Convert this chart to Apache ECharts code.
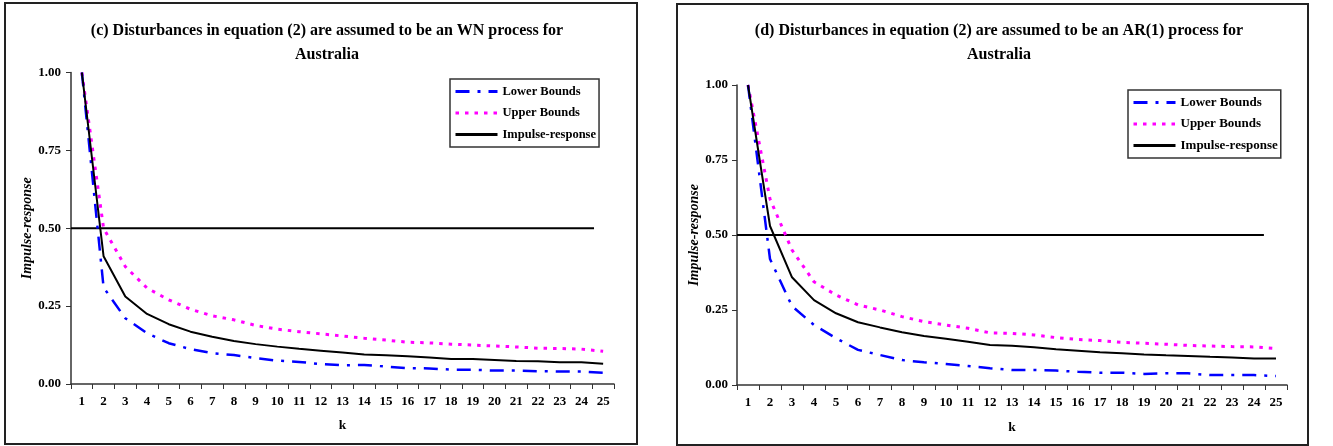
<!DOCTYPE html>
<html>
<head>
<meta charset="utf-8">
<script src="https://cdn.jsdelivr.net/npm/echarts@6/dist/echarts.min.js"></script>
<style>
  html, body { margin: 0; padding: 0; background: #fff; }
  #chart { width: 1333px; height: 446px; }
</style>
</head>
<body>
<div id="chart"></div>
<script>
// ---- data ----
const categories = ['1','2','3','4','5','6','7','8','9','10','11','12','13','14','15','16','17','18','19','20','21','22','23','24','25'];

// Panel (c): WN process
const lowerC   = [1.00, 0.31, 0.211, 0.163, 0.131, 0.112, 0.099, 0.093, 0.083, 0.075, 0.071, 0.064, 0.060, 0.061, 0.056, 0.051, 0.050, 0.046, 0.046, 0.043, 0.043, 0.041, 0.040, 0.040, 0.036];
const upperC   = [1.00, 0.50, 0.377, 0.308, 0.270, 0.240, 0.219, 0.206, 0.188, 0.176, 0.168, 0.161, 0.154, 0.147, 0.141, 0.134, 0.132, 0.128, 0.125, 0.122, 0.119, 0.115, 0.114, 0.112, 0.105];
const impulseC = [1.00, 0.41, 0.281, 0.225, 0.192, 0.168, 0.152, 0.138, 0.128, 0.120, 0.113, 0.107, 0.101, 0.095, 0.092, 0.089, 0.085, 0.080, 0.080, 0.077, 0.074, 0.073, 0.070, 0.070, 0.065];
const refLineC = [[0.5, 0.5], [24.58, 0.5]];

// Panel (d): AR(1) process
const lowerD   = [1.00, 0.42, 0.263, 0.200, 0.156, 0.117, 0.100, 0.083, 0.076, 0.070, 0.063, 0.056, 0.050, 0.050, 0.048, 0.044, 0.041, 0.041, 0.037, 0.039, 0.039, 0.033, 0.033, 0.033, 0.030];
const upperD   = [1.00, 0.62, 0.450, 0.344, 0.300, 0.267, 0.250, 0.228, 0.211, 0.200, 0.189, 0.174, 0.172, 0.167, 0.158, 0.152, 0.148, 0.142, 0.139, 0.136, 0.132, 0.130, 0.128, 0.127, 0.122];
const impulseD = [1.00, 0.53, 0.359, 0.283, 0.239, 0.209, 0.192, 0.176, 0.163, 0.154, 0.144, 0.133, 0.131, 0.126, 0.119, 0.114, 0.109, 0.106, 0.102, 0.099, 0.097, 0.094, 0.092, 0.088, 0.088];
const refLineD = [[0.5, 0.5], [24.45, 0.5]];

const yTickValues = [0, 0.25, 0.5, 0.75, 1.0];
const seriesNames = ['Lower Bounds', 'Upper Bounds', 'Impulse-response'];
const titleC = '(c) Disturbances in equation (2) are assumed to be an WN process for\nAustralia';
const titleD = '(d) Disturbances in equation (2) are assumed to be an AR(1) process for\nAustralia';

// ---- styles ----
const SERIF = "'Liberation Serif', 'Times New Roman', serif";
const AX = '#333';

function catAxis(gi, nameGap) {
  return {
    type: 'category', gridIndex: gi, data: categories, boundaryGap: true,
    axisLine: { lineStyle: { color: AX, width: 1.5 } },
    axisTick: { show: true, length: 5, inside: false, alignWithLabel: false, lineStyle: { color: AX, width: 1 } },
    axisLabel: { interval: 0, margin: 11, color: '#000', fontFamily: SERIF, fontWeight: 'bold', fontSize: 13 },
    name: 'k', nameLocation: 'middle', nameGap: nameGap,
    nameTextStyle: { color: '#000', fontFamily: SERIF, fontWeight: 'bold', fontSize: 13.5 },
    splitLine: { show: false }
  };
}
function valXAxis(gi) {
  return { type: 'value', gridIndex: gi, min: 0.5, max: 25.5, show: false, splitLine: { show: false } };
}
function yAx(gi, margin) {
  return {
    type: 'value', gridIndex: gi, min: 0, max: 1, interval: 0.25,
    axisLine: { show: true, lineStyle: { color: AX, width: 1.5 } },
    axisTick: { show: true, length: 5, lineStyle: { color: AX, width: 1 } },
    axisLabel: { margin: margin, color: '#000', fontFamily: SERIF, fontWeight: 'bold', fontSize: 13,
                 formatter: v => (yTickValues.indexOf(v) >= 0 ? v.toFixed(2) : '') },
    splitLine: { show: false },
    name: 'Impulse-response', nameLocation: 'middle', nameRotate: 90, nameGap: 32,
    nameTextStyle: { color: '#000', fontFamily: SERIF, fontWeight: 'bold', fontStyle: 'italic', fontSize: 14 }
  };
}
function seriesFor(gi, lower, upper, impulse, ref) {
  const xi = gi * 2, xv = gi * 2 + 1;
  return [
    { name: seriesNames[0], type: 'line', xAxisIndex: xi, yAxisIndex: gi, data: lower, symbol: 'none',
      lineStyle: { color: '#0000FF', width: 2.5, type: [14, 8, 3, 8], cap: 'butt' }, itemStyle: { color: '#0000FF' }, z: 3 },
    { name: seriesNames[1], type: 'line', xAxisIndex: xi, yAxisIndex: gi, data: upper, symbol: 'none',
      lineStyle: { color: '#FF00FF', width: 3, type: [3.5, 6], cap: 'butt' }, itemStyle: { color: '#FF00FF' }, z: 2 },
    { name: seriesNames[2], type: 'line', xAxisIndex: xi, yAxisIndex: gi, data: impulse, symbol: 'none',
      lineStyle: { color: '#000000', width: 2 }, itemStyle: { color: '#000' }, z: 4 },
    { name: 'ref', type: 'line', xAxisIndex: xv, yAxisIndex: gi, data: ref, symbol: 'none', silent: true,
      lineStyle: { color: '#000000', width: 2 }, z: 1 }
  ];
}
function legendAt(left, top, fs) {
  return {
    data: seriesNames, orient: 'vertical', left: left, top: top,
    padding: [6, 3, 6, 4], itemWidth: 42, itemHeight: 12, itemGap: 8.5,
    borderColor: '#333', borderWidth: 1.5, backgroundColor: '#fff',
    itemStyle: { opacity: 0 },
    lineStyle: { width: 3 },
    textStyle: { color: '#000', fontFamily: SERIF, fontWeight: 'bold', fontSize: fs },
    selectedMode: false
  };
}
function titleAt(text, cx) {
  return {
    text: text, left: cx, top: 19, textAlign: 'center', padding: 0,
    textStyle: { color: '#000', fontFamily: SERIF, fontWeight: 'bold', fontSize: 16, lineHeight: 24 }
  };
}

const chart = echarts.init(document.getElementById('chart'), null, { renderer: 'canvas' });
chart.setOption({
  backgroundColor: '#fff',
  animation: false,
  title: [ titleAt(titleC, 327), titleAt(titleD, 999) ],
  legend: [ legendAt(450, 79, 12.5), legendAt(1128, 90, 13) ],
  grid: [
    { left: 71, top: 72.5, width: 543, height: 311.5 },
    { left: 737, top: 85, width: 550, height: 300 }
  ],
  xAxis: [ catAxis(0, 34.5), valXAxis(0), catAxis(1, 35.5), valXAxis(1) ],
  yAxis: [ yAx(0, 10), yAx(1, 9) ],
  series: [].concat(
    seriesFor(0, lowerC, upperC, impulseC, refLineC),
    seriesFor(1, lowerD, upperD, impulseD, refLineD)
  ),
  graphic: [
    { type: 'rect', shape: { x: 5, y: 3, width: 632, height: 441 }, style: { fill: 'none', stroke: '#222', lineWidth: 2 }, silent: true },
    { type: 'rect', shape: { x: 677, y: 4, width: 631, height: 441 }, style: { fill: 'none', stroke: '#222', lineWidth: 2 }, silent: true }
  ]
});
</script>
</body>
</html>
